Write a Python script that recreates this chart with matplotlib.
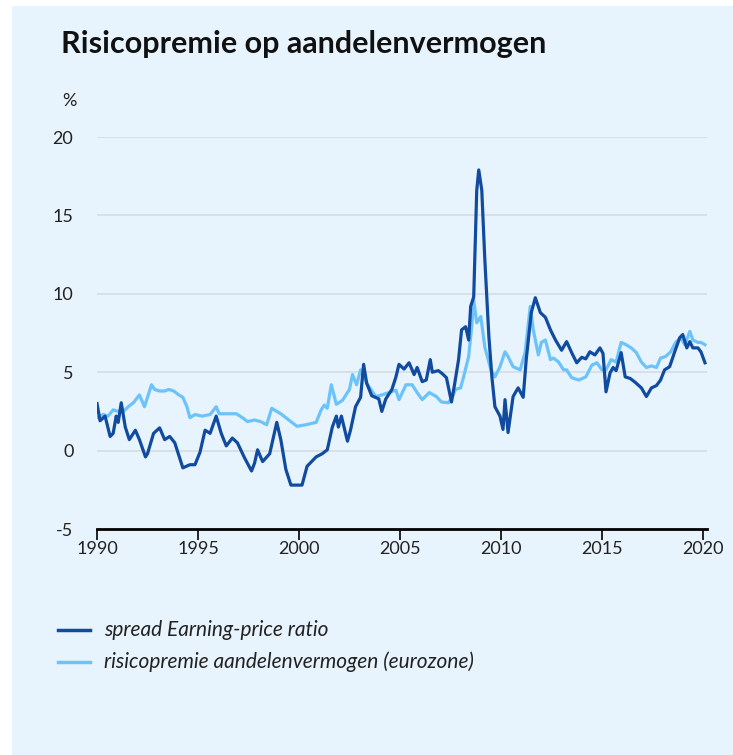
import matplotlib
matplotlib.use("Agg")
import matplotlib.pyplot as plt
from matplotlib.patches import Rectangle

# ---- data ----
ep_years = [1990.0, 1990.15, 1990.4, 1990.65, 1990.8, 1990.95, 1991.05, 1991.2, 1991.4, 1991.6, 1991.9,
            1992.1, 1992.4, 1992.5, 1992.8, 1993.1, 1993.35, 1993.6, 1993.85, 1994.25, 1994.6, 1994.85,
            1995.1, 1995.35, 1995.6, 1995.9, 1996.15, 1996.4, 1996.7, 1996.95, 1997.3, 1997.65, 1997.8,
            1997.95, 1998.2, 1998.55, 1998.9, 1999.1, 1999.35, 1999.6, 1999.85, 2000.15, 2000.4, 2000.85,
            2001.15, 2001.4, 2001.65, 2001.85, 2001.95, 2002.1, 2002.4, 2002.55, 2002.8, 2003.05, 2003.2,
            2003.35, 2003.6, 2003.95, 2004.1, 2004.3, 2004.6, 2004.8, 2004.95, 2005.2, 2005.45, 2005.7,
            2005.85, 2006.1, 2006.3, 2006.5, 2006.6, 2006.9, 2007.1, 2007.3, 2007.55, 2007.7, 2007.9,
            2008.05, 2008.25, 2008.4, 2008.5, 2008.65, 2008.8, 2008.9, 2009.05, 2009.2, 2009.4, 2009.55,
            2009.7, 2009.95, 2010.1, 2010.2, 2010.35, 2010.6, 2010.85, 2011.1, 2011.25, 2011.5, 2011.7,
            2011.95, 2012.2, 2012.45, 2012.7, 2013.0, 2013.25, 2013.5, 2013.75, 2014.0, 2014.2, 2014.4,
            2014.65, 2014.9, 2015.05, 2015.2, 2015.4, 2015.55, 2015.7, 2015.95, 2016.15, 2016.4, 2016.65,
            2016.95, 2017.2, 2017.45, 2017.7, 2017.9, 2018.1, 2018.35, 2018.6, 2018.85, 2019.0, 2019.2,
            2019.35, 2019.5, 2019.75, 2019.9, 2020.1]
ep_values = [3.0, 1.9, 2.2, 0.9, 1.1, 2.2, 1.8, 3.05, 1.5, 0.7, 1.3,
             0.7, -0.4, -0.2, 1.1, 1.45, 0.7, 0.9, 0.5, -1.1, -0.9, -0.9,
             -0.1, 1.3, 1.1, 2.2, 1.1, 0.3, 0.8, 0.5, -0.45, -1.3, -0.8,
             0.05, -0.7, -0.2, 1.8, 0.7, -1.2, -2.2, -2.2, -2.2, -1.0, -0.4,
             -0.2, 0.05, 1.5, 2.2, 1.5, 2.2, 0.6, 1.3, 2.8, 3.4, 5.5,
             4.3, 3.5, 3.3, 2.5, 3.3, 3.9, 4.7, 5.5, 5.2, 5.6, 4.85,
             5.3, 4.4, 4.5, 5.8, 5.0, 5.1, 4.9, 4.65, 3.1, 4.2, 5.8,
             7.7, 7.9, 7.05, 9.2, 9.8, 16.6, 17.9, 16.6, 12.2, 7.3, 4.7,
             2.8, 2.2, 1.35, 3.25, 1.15, 3.45, 4.0, 3.4, 5.8, 8.8, 9.75,
             8.8, 8.5, 7.7, 7.05, 6.4, 6.95, 6.25, 5.6, 5.95, 5.85, 6.3,
             6.1, 6.55, 6.2, 3.75, 4.95, 5.3, 5.1, 6.25, 4.7, 4.6, 4.35,
             4.0, 3.45, 4.0, 4.15, 4.5, 5.15, 5.35, 6.3, 7.2, 7.4, 6.55,
             6.95, 6.55, 6.55, 6.3, 5.6]

rp_years = [1990.0, 1990.3, 1990.55, 1990.8, 1991.05, 1991.3, 1991.55, 1991.8, 1992.1, 1992.35, 1992.5,
            1992.7, 1992.85, 1993.1, 1993.35, 1993.55, 1993.8, 1994.05, 1994.25, 1994.45, 1994.6, 1994.85,
            1995.2, 1995.6, 1995.9, 1996.05, 1996.4, 1996.9, 1997.2, 1997.45, 1997.8, 1998.1, 1998.4,
            1998.65, 1998.9, 1999.1, 1999.5, 1999.9, 2000.35, 2000.85, 2001.1, 2001.25, 2001.4, 2001.6,
            2001.85, 2002.15, 2002.5, 2002.65, 2002.85, 2003.05, 2003.2, 2003.4, 2003.8, 2004.1, 2004.45,
            2004.8, 2004.95, 2005.3, 2005.6, 2005.85, 2006.1, 2006.45, 2006.8, 2007.05, 2007.4, 2007.6,
            2007.75, 2008.0, 2008.15, 2008.4, 2008.55, 2008.65, 2008.8, 2009.0, 2009.2, 2009.5, 2009.7,
            2009.95, 2010.2, 2010.35, 2010.6, 2010.95, 2011.2, 2011.45, 2011.6, 2011.85, 2012.0, 2012.2,
            2012.45, 2012.6, 2012.85, 2013.1, 2013.25, 2013.5, 2013.85, 2014.2, 2014.5, 2014.75, 2015.0,
            2015.2, 2015.45, 2015.7, 2015.95, 2016.2, 2016.45, 2016.7, 2016.95, 2017.2, 2017.45, 2017.7,
            2017.9, 2018.15, 2018.4, 2018.65, 2018.9, 2019.1, 2019.35, 2019.5, 2019.75, 2019.9, 2020.1]
rp_values = [2.1, 2.3, 2.2, 2.6, 2.5, 2.5, 2.8, 3.05, 3.55, 2.8, 3.4,
             4.2, 3.9, 3.8, 3.8, 3.9, 3.8, 3.55, 3.4, 2.8, 2.1, 2.3,
             2.2, 2.3, 2.8, 2.35, 2.35, 2.35, 2.1, 1.85, 1.95, 1.85, 1.65,
             2.7, 2.5, 2.35, 1.95, 1.55, 1.65, 1.8, 2.6, 2.9, 2.7, 4.2,
             2.95, 3.2, 3.9, 4.85, 4.2, 5.15, 4.7, 4.2, 3.45, 3.55, 3.7,
             3.85, 3.25, 4.2, 4.2, 3.7, 3.25, 3.7, 3.45, 3.1, 3.05, 3.45,
             3.9, 4.0, 4.7, 6.0, 7.9, 9.6, 8.15, 8.55, 6.6, 5.15, 4.7,
             5.35, 6.3, 6.0, 5.35, 5.15, 6.3, 9.2, 7.7, 6.1, 6.9, 7.05,
             5.8, 5.9, 5.65, 5.15, 5.15, 4.65, 4.5, 4.7, 5.45, 5.6, 5.15,
             5.15, 5.8, 5.65, 6.9, 6.75, 6.55, 6.25, 5.65, 5.3, 5.4, 5.3,
             5.9, 6.0, 6.3, 6.9, 7.2, 6.75, 7.6, 7.05, 6.9, 6.9, 6.75]

series_labels = ["spread Earning-price ratio", "risicopremie aandelenvermogen (eurozone)"]
y_ticks = [-5, 0, 5, 10, 15, 20]
x_ticks = [1990, 1995, 2000, 2005, 2010, 2015, 2020]

# ---- style ----
BG = "#E8F4FD"
DARK = "#114B9F"
LIGHT = "#6CC3FA"
FONT = ["Lato", "DejaVu Sans"]
plt.rcParams["font.family"] = FONT

W, H = 733, 755
fig = plt.figure(figsize=(W / 100, H / 100), dpi=100)
fig.patch.set_facecolor("white")
fig.patches.append(Rectangle((12 / W, 0), 1 - 12 / W, 1 - 6 / H, transform=fig.transFigure,
                             facecolor=BG, edgecolor="none", zorder=-10))

ax = fig.add_axes([97 / W, 1 - 529 / H, (707 - 97) / W, (529 - 137) / H])
ax.set_facecolor("none")
ax.set_xlim(1990, 2020.2)
ax.set_ylim(-5, 20)

for y in y_ticks[1:]:
    ax.axhline(y, color="#D6DCE1", lw=1.2, zorder=1)

ax.plot(rp_years, rp_values, color=LIGHT, lw=2.3, zorder=3, solid_joinstyle="round")
ax.plot(ep_years, ep_values, color=DARK, lw=2.3, zorder=4, solid_joinstyle="round")

for s in ["top", "right", "left"]:
    ax.spines[s].set_visible(False)
ax.spines["bottom"].set_color("black")
ax.spines["bottom"].set_linewidth(2)

ax.set_xticks(x_ticks)
ax.set_xticklabels([str(t) for t in x_ticks], fontsize=13, color="#222222")
ax.tick_params(axis="x", direction="out", length=8, width=1.2, color="black", pad=1)
ax.set_yticks(y_ticks)
ax.set_yticklabels([str(t) for t in y_ticks], fontsize=13, color="#222222")
ax.tick_params(axis="y", length=0, pad=17)

fig.text(61 / W, 1 - 44 / H, "Risicopremie op aandelenvermogen", fontsize=22, fontweight="bold",
         ha="left", va="center", color="#111111")
fig.text(62 / W, 1 - 101 / H, "%", fontsize=13, ha="left", va="center", color="#222222")

# legend
leg_y = [630, 662]
for (yy, col, lab) in zip(leg_y, [DARK, LIGHT], series_labels):
    fig.add_artist(plt.Line2D([58 / W, 90 / W], [1 - yy / H, 1 - yy / H], color=col, lw=2.5,
                              transform=fig.transFigure))
    fig.text(104 / W, 1 - yy / H, lab, fontsize=15, style="italic", ha="left", va="center",
             color="#222222")

fig.savefig("out.png", dpi=100, facecolor=fig.get_facecolor())
